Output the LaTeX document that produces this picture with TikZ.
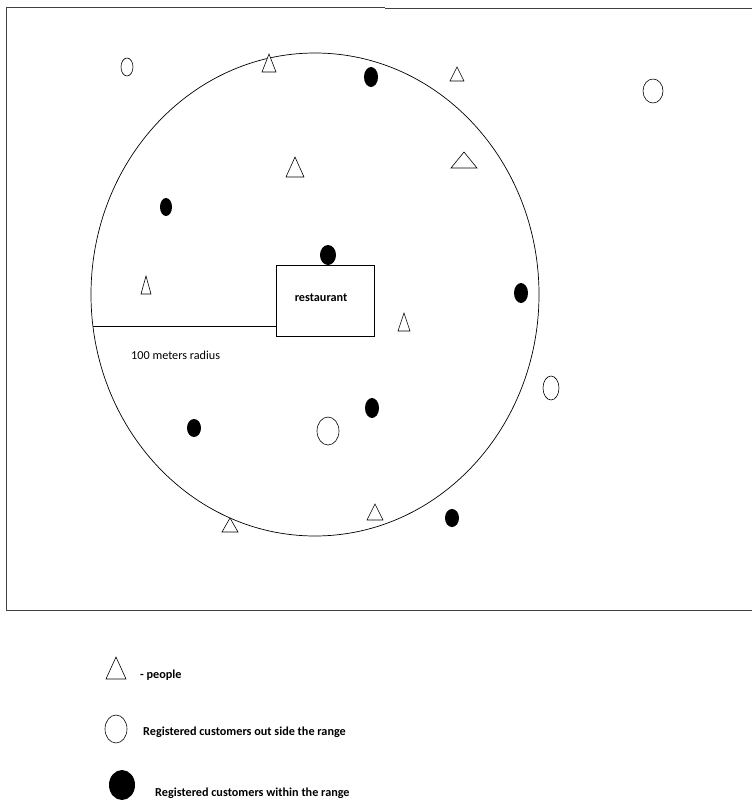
\documentclass[tikz,border=0pt]{standalone}
\usepackage{fontspec}
\setmainfont{Carlito}
\usetikzlibrary{shapes.geometric}
\tikzset{
  frame/.style={draw=black!75, line width=0.9pt},
  zone/.style={draw, ellipse, line width=0.7pt, inner sep=0pt},
  cust/.style={ellipse, fill=black, inner sep=0pt},
  outcust/.style={ellipse, draw, line width=0.6pt, fill=white, inner sep=0pt},
  person/.style={draw, line width=0.6pt, fill=white, line join=miter},
  label/.style={font=\fontsize{12.2}{14}\selectfont, inner sep=0pt},
  legend/.style={font=\bfseries\fontsize{12.2}{14}\selectfont, inner sep=0pt, anchor=west},
}
% hollow triangle centred at (#1,#2), width #3, height #4
\newcommand{\persontri}[4]{\draw[person] (#1-#3/2,#2+#4/2) -- (#1+#3/2,#2+#4/2) -- (#1,#2-#4/2) -- cycle;}
\begin{document}
\begin{tikzpicture}[x=1pt,y=-1pt]
\useasboundingbox (0,0) rectangle (752,803);
\fill[white] (0,0) rectangle (752,803);

% outer frame
\draw[frame] (6,7) -- (385,7);
\draw[frame] (385,8) -- (752,8);
\draw[frame] (6,7) -- (6,610) -- (752,610);

% the 100 m zone around the restaurant
\node[zone, minimum width=448pt, minimum height=483pt] (zone) at (315,294.5) {};

% restaurant
\node[draw, line width=0.7pt, minimum width=98pt, minimum height=71pt, inner sep=0pt] (rest) at (325,301) {};
\node[label, font=\bfseries\fontsize{12.2}{14}\selectfont] (restlbl) at (321,298) {restaurant};

% radius
\coordinate (radA) at (93,326);
\draw[line width=0.7pt] (radA) -- (radA -| rest.west);
\node[label, anchor=west] (radlbl) at (131,355) {100 meters radius};

% people
\persontri{269}{63}{14}{18}
\persontri{457}{74}{14}{14}
\persontri{295}{167}{18}{20}
\persontri{464}{160}{26}{16}
\persontri{146}{285}{10}{18}
\persontri{404}{322}{12}{18}
\persontri{375}{512}{16}{16}
\persontri{230}{525}{16}{14}

% registered customers inside the range
\node[cust, minimum width=14pt, minimum height=20pt] (c1) at (371,77) {};
\node[cust, minimum width=12pt, minimum height=18pt] (c2) at (166,207) {};
\node[cust, minimum width=16pt, minimum height=20pt] (c3) at (328,255) {};
\node[cust, minimum width=14pt, minimum height=20pt] (c4) at (521,293) {};
\node[cust, minimum width=14pt, minimum height=20pt] (c5) at (372,408) {};
\node[cust, minimum width=14pt, minimum height=18pt] (c6) at (194,428) {};
\node[cust, minimum width=14pt, minimum height=18pt] (c7) at (452,518) {};

% registered customers outside the range
\node[outcust, minimum width=12pt, minimum height=18pt] (o1) at (127,67) {};
\node[outcust, minimum width=20pt, minimum height=24pt] (o2) at (653,91) {};
\node[outcust, minimum width=16pt, minimum height=24pt] (o3) at (551,388) {};
\node[outcust, minimum width=22pt, minimum height=28pt] (o4) at (328,431) {};

% legend
\persontri{116}{668}{20}{22}
\node[legend] (lg1) at (140,675) {- people};
\node[outcust, minimum width=22pt, minimum height=28pt] (lgo) at (116,729) {};
\node[legend] (lg2) at (143,732) {Registered customers out side the range};
\node[cust, minimum width=26pt, minimum height=30pt] (lgc) at (122,785) {};
\node[legend] (lg3) at (155,793) {Registered customers within the range};
\end{tikzpicture}
\end{document}
